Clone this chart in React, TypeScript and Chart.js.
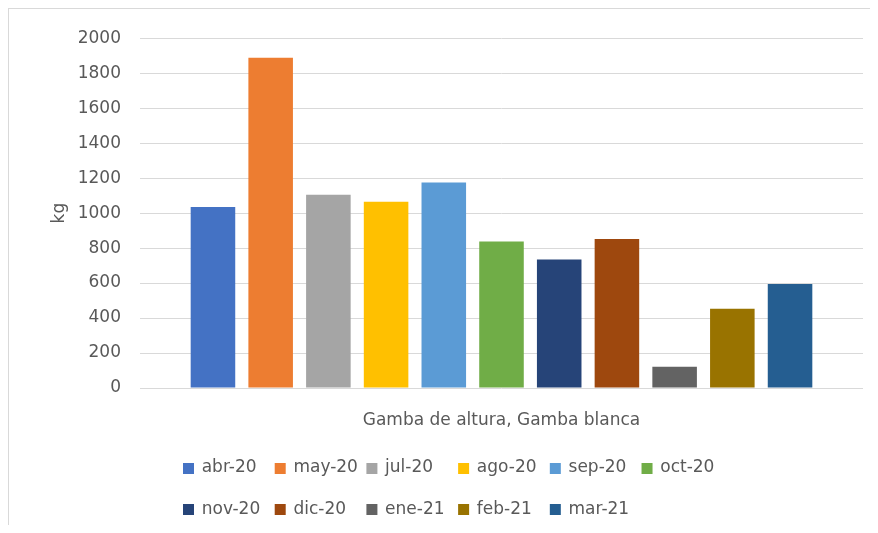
import React, { useEffect, useRef } from 'react';
import { Chart, registerables } from 'chart.js';

Chart.register(...registerables);

const categories = ['Gamba de altura, Gamba blanca'];
const months = ['abr-20', 'may-20', 'jul-20', 'ago-20', 'sep-20', 'oct-20', 'nov-20', 'dic-20', 'ene-21', 'feb-21', 'mar-21'];
const values = [1035, 1888, 1105, 1065, 1175, 838, 735, 852, 122, 453, 595];
const colors = ['#4472C4', '#ED7D31', '#A5A5A5', '#FFC000', '#5B9BD5', '#70AD47', '#264478', '#9E480E', '#636363', '#997300', '#255E91'];
const yMin = 0;
const yMax = 2000;
const yStep = 200;
const yTitle = 'kg';

const FONT = "'DejaVu Sans', sans-serif";
const TEXT = '#595959';
const GRID = '#d9d9d9';

const excelLegend = {
  id: 'excelLegend',
  afterDraw(chart: any) {
    const ctx = chart.ctx;
    const area = chart.chartArea;
    ctx.save();
    ctx.font = `17px ${FONT}`;
    const items = chart.data.datasets.map((ds: any) => ({ text: ds.label as string, color: ds.backgroundColor as string }));
    const box = 11;
    const gap = 7.7;
    const spacing = 8.5;
    const maxW = Math.max(...items.map((it: any) => ctx.measureText(it.text).width));
    const cw = box + gap + maxW + spacing;
    const perRow = 6;
    const startX = 174;
    const rowY = [area.bottom + 80, area.bottom + 121.5];
    items.forEach((it: any, i: number) => {
      const col = i % perRow;
      const row = Math.floor(i / perRow);
      const x = startX + col * cw;
      const y = rowY[row];
      ctx.fillStyle = it.color;
      ctx.fillRect(x, Math.round(y - box / 2), box, box);
      ctx.fillStyle = TEXT;
      ctx.textAlign = 'left';
      ctx.textBaseline = 'middle';
      ctx.fillText(it.text, x + box + gap, y);
    });
    ctx.restore();
  },
};

export default function App() {
  const canvasRef = useRef<HTMLCanvasElement | null>(null);

  useEffect(() => {
    if (!canvasRef.current) return;
    const chart = new Chart(canvasRef.current, {
      type: 'bar',
      data: {
        labels: categories,
        datasets: months.map((m, i) => ({
          label: m,
          data: [values[i]],
          backgroundColor: colors[i],
          borderWidth: 0,
          barPercentage: 0.772,
          categoryPercentage: 0.878,
        })),
      },
      options: {
        animation: false,
        responsive: false,
        maintainAspectRatio: false,
        layout: { padding: { top: 27, right: 7, bottom: 95, left: 0 } },
        plugins: {
          legend: { display: false },
          tooltip: { enabled: false },
        },
        scales: {
          x: {
            grid: { display: false, drawTicks: false },
            border: { display: false },
            ticks: {
              color: TEXT,
              font: { family: FONT, size: 17 },
              padding: 22,
              maxRotation: 0,
              autoSkip: false,
            },
            afterFit: (scale: any) => {
              scale.height = 42;
            },
          },
          y: {
            min: yMin,
            max: yMax,
            grid: { color: GRID, lineWidth: 1, drawTicks: false },
            border: { display: false },
            ticks: {
              stepSize: yStep,
              color: TEXT,
              font: { family: FONT, size: 17 },
              padding: 19,
              callback: (v: any) => String(v),
            },
            title: {
              display: true,
              text: yTitle,
              color: TEXT,
              font: { family: FONT, size: 17 },
              padding: { top: 40, bottom: 0 },
            },
            afterFit: (scale: any) => {
              scale.width = 131;
            },
          },
        },
      },
      plugins: [excelLegend],
    });
    return () => chart.destroy();
  }, []);

  return (
    <div
      style={{
        width: 870,
        height: 517,
        boxSizing: 'border-box',
        borderTop: `1px solid ${GRID}`,
        borderLeft: `1px solid ${GRID}`,
        background: '#fff',
      }}
    >
      <canvas ref={canvasRef} width={861} height={516} style={{ display: 'block' }} />
    </div>
  );
}
